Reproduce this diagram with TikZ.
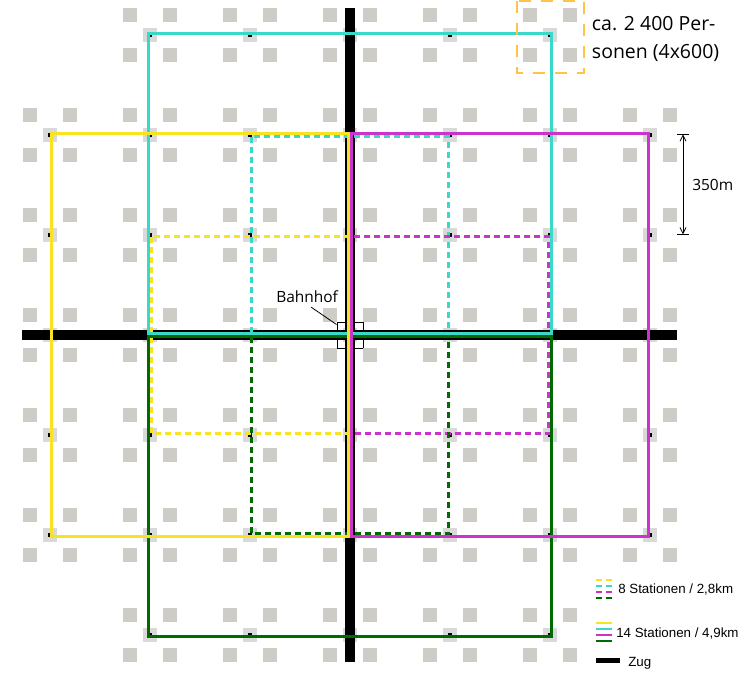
\documentclass[tikz,border=0pt]{standalone}
\usepackage{fontspec}
\setmainfont{Open Sans}
\newfontfamily\legendfont{Liberation Sans}
\usetikzlibrary{calc,arrows.meta}
\definecolor{cyanl}{RGB}{56,217,200}
\definecolor{yell}{RGB}{247,227,32}
\definecolor{magl}{RGB}{204,51,204}
\definecolor{grnl}{RGB}{0,106,0}
\definecolor{greysq}{RGB}{205,204,199}
\definecolor{stsq}{RGB}{217,217,217}
\definecolor{orangel}{RGB}{255,195,70}
\begin{document}
\begin{tikzpicture}[x=0.75pt,y=-0.75pt,
  route/.style={line width=2.25pt,line cap=butt,line join=miter},
  dashroute/.style={route,dash pattern=on 4.5pt off 3pt},
  train/.style={line width=7.5pt,line cap=butt},
  swatch/.style={line width=1.5pt},
  swatchdash/.style={swatch,dash pattern=on 4.5pt off 3pt},
  lbl/.style={inner sep=0pt,anchor=base west},
  thinline/.style={line width=0.6pt},
]
\useasboundingbox (0,0) rectangle (743,672);
\fill[white] (0,0) rectangle (743,672);

% station coordinates
\foreach \i in {0,...,6}{\foreach \j in {0,...,6}{
  \coordinate (s-\i-\j) at ({50+100*\i},{35+100*\j});
}}

% Bahnhof box
\node[draw=black,fill=white,line width=0.75pt,minimum size=19.5pt,inner sep=0pt] (bahnhof) at (s-3-3) {};

% station squares
\foreach \i in {0,...,6}{\foreach \j in {0,...,6}{
  \pgfmathtruncatemacro\corner{and(or(\i==0,\i==6),or(\j==0,\j==6))}
  \ifnum\corner=0
    \fill[greysq] ($(s-\i-\j)+(-27,-27)$) rectangle +(14,14);
    \fill[greysq] ($(s-\i-\j)+(13,-27)$) rectangle +(14,14);
    \fill[greysq] ($(s-\i-\j)+(-27,13)$) rectangle +(14,14);
    \fill[greysq] ($(s-\i-\j)+(13,13)$) rectangle +(14,14);
    \fill[stsq] ($(s-\i-\j)+(-7,-7)$) rectangle +(14,14);
    \fill[black] ($(s-\i-\j)+(-2,-2)$) rectangle +(4,4);
  \fi
}}

% train lines
\coordinate (tn) at (350,8);
\coordinate (ts) at (350,662);
\coordinate (tw) at (22,335);
\coordinate (te) at (677,335);
\draw[train] (tn) -- (ts);
\draw[train] (tw) -- (te);

% dashed routes (8 stations)
\draw[dashroute,cyanl] ($(s-2-1)+(1.5,1.5)$) rectangle ($(s-4-3)+(-1.5,-1.5)$);
\draw[dashroute,yell]  ($(s-1-2)+(1.5,1.5)$) rectangle ($(s-3-4)+(-1.5,-1.5)$);
\draw[dashroute,magl]  ($(s-3-2)+(1.5,1.5)$) rectangle ($(s-5-4)+(-1.5,-1.5)$);
\draw[dashroute,grnl]  ($(s-2-3)+(1.5,1.5)$) rectangle ($(s-4-5)+(-1.5,-1.5)$);

% solid routes (14 stations)
\draw[route,cyanl] ($(s-1-0)+(-1.5,-1.5)$) rectangle ($(s-5-3)+(1.5,-1.5)$);
\draw[route,grnl]  ($(s-1-3)+(-1.5,1.5)$) rectangle ($(s-5-6)+(1.5,1.5)$);
\draw[route,yell]  ($(s-0-1)+(1.5,-1.5)$) rectangle ($(s-3-5)+(-1.5,1.5)$);
\draw[route,magl]  ($(s-3-1)+(1.5,-1.5)$) rectangle ($(s-6-5)+(-1.5,1.5)$);

% Bahnhof label
\node[lbl,font=\fontsize{11.6pt}{14pt}\selectfont] (bhlbl) at (276,302.7) {Bahnhof};
\draw[thinline] ($(bhlbl.south)+(4,4)$) -- ($(bahnhof.north west)+(0,3)$);

% capacity box
\draw[orangel,line width=1.5pt,dash pattern=on 9pt off 7.5pt] (517,1) rectangle (584,73);
\node[lbl,font=\fontsize{14.6pt}{20.7pt}\selectfont] (pers1) at (591.7,30.7) {ca. 2 400 Per-};
\node[lbl,font=\fontsize{14.6pt}{20.7pt}\selectfont] (pers2) at (591.7,58.3) {sonen (4x600)};

% dimension 350m
\coordinate (d1) at (683,134.3);
\coordinate (d2) at (683,234.3);
\draw[thinline,{Straight Barb[length=4.5pt,width=4.5pt]}-{Straight Barb[length=4.5pt,width=4.5pt]}] (d1) -- (d2);
\draw[thinline] ($(d1)+(-6,0)$) -- ($(d1)+(6,0)$);
\draw[thinline] ($(d2)+(-6,0)$) -- ($(d2)+(6,0)$);
\node[lbl,font=\fontsize{11.6pt}{14pt}\selectfont] (dimlbl) at (692,190.7) {350m};

% legend
\foreach \c/\yy in {yell/580,cyanl/586,magl/592,grnl/598}{
  \draw[swatchdash,\c] (596,\yy) -- (612,\yy);
}
\foreach \c/\yy in {yell/623,cyanl/629,magl/635,grnl/641}{
  \draw[swatch,\c] (596,\yy) -- (612,\yy);
}
\fill[black] (596,657.7) rectangle (620,663);
\node[lbl,font=\legendfont\fontsize{10pt}{12pt}\selectfont] (leg1) at (618,593.3) {8 Stationen / 2,8km};
\node[lbl,font=\legendfont\fontsize{10pt}{12pt}\selectfont] (leg2) at (616,637.3) {14 Stationen / 4,9km};
\node[lbl,font=\legendfont\fontsize{10pt}{12pt}\selectfont] (leg3) at (628,666.7) {Zug};
\end{tikzpicture}
\end{document}
